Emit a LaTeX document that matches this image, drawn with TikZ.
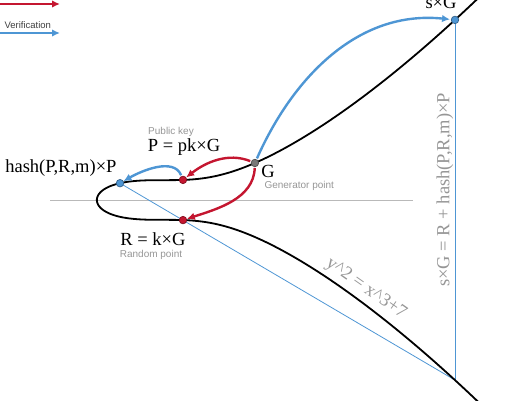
\documentclass[tikz,border=0pt]{standalone}
\usepackage{fontspec}
\setmainfont{Liberation Serif}
\newfontfamily\notefont{Liberation Sans}
\usetikzlibrary{arrows.meta}

\definecolor{signred}{RGB}{196,22,48}
\definecolor{checkblue}{RGB}{78,150,212}
\definecolor{notegray}{RGB}{150,150,150}
\definecolor{gengray}{RGB}{120,120,120}

\tikzset{
  curvept/.style={circle, inner sep=0pt, minimum size=7.5pt, line width=0.7pt, draw=#1!65!black, fill=#1},
  formula/.style={font=\fontsize{18.5}{21}\selectfont},
  note/.style={font=\notefont\fontsize{10}{12}\selectfont, text=notegray},
  signarrow/.style={signred, line width=2.4pt, -{Latex[length=8pt,width=7.5pt]}},
  checkarrow/.style={checkblue, line width=2.4pt, -{Latex[length=8pt,width=7.5pt]}},
}

\begin{document}
\begin{tikzpicture}[x=1pt,y=1pt]
  \useasboundingbox (0,0) rectangle (520,400);
  \clip (0,0) rectangle (520,400);

  % legend
  \coordinate (sigA) at (0,396);   \coordinate (sigB) at (60,396);
  \coordinate (verA) at (0,367);   \coordinate (verB) at (60,367);
  \node[note, text=black!75, anchor=base west] (sigtxt) at (1,401) {Signing};
  \node[note, text=black!75, anchor=west, font=\notefont\fontsize{9.5}{11}\selectfont] (vertxt) at (1,375) {Verification};
  \draw[signarrow, line width=1.8pt] (sigA) -- (sigB);
  \draw[checkarrow, line width=1.8pt] (verA) -- (verB);

  % axis
  \coordinate (axL) at (50,200); \coordinate (axR) at (413,200);
  \draw[gray!55, line width=0.6pt] (axL) -- (axR);

  % points on the curve
  \coordinate (Hc) at (120.0,216.8);
  \coordinate (Pc) at (183.0,220.1);
  \coordinate (Rc) at (183.0,179.9);
  \coordinate (Gc) at (254.9,237.0);
  \coordinate (Sc) at (455.0,380.1);
  \coordinate (Lc) at (455.0,19.9);

  % chords
  \draw[checkblue, line width=0.8pt] (Hc) -- (Lc);
  \draw[checkblue, line width=0.8pt] (Sc) -- (Lc);

  % y^2 = x^3 + 7
  \draw[line width=1.8pt] plot[domain=-3.4:3.4, samples=160, smooth, variable=\u]
    ({164+35.1*(-1.913+\u*\u)}, {200+7.5*\u*sqrt((-1.913+\u*\u)^2-1.913*(-1.913+\u*\u)+3.6596)});

  % arrows
  \draw[checkarrow, shorten <=5pt, shorten >=5pt] (Gc) to[out=66, in=174] (Sc);
  \draw[signarrow, shorten <=5pt, shorten >=4pt] (Gc) to[out=158, in=38] (Pc);
  \draw[signarrow, shorten <=5pt, shorten >=4pt] (Gc) to[out=-92, in=18] (Rc);
  \draw[checkarrow, shorten <=5pt, shorten >=4pt] (Pc) to[out=112, in=30] (Hc);

  \node[curvept=checkblue] (H) at (Hc) {};
  \node[curvept=signred] (P) at (Pc) {};
  \node[curvept=signred] (R) at (Rc) {};
  \node[curvept=gengray] (G) at (Gc) {};
  \node[curvept=checkblue] (S) at (Sc) {};

  % labels
  \node[formula, anchor=base] (Slbl) at (441,391) {s×G};
  \node[formula] (Plbl) at (184,253) {P = pk×G};
  \node[note] (Pnote) at (171,268) {Public key};
  \node[formula, anchor=east] (Hlbl) at (120,232) {hash(P,R,m)×P};
  \node[formula] (Glbl) at (268,229) {G};
  \node[note, anchor=west] (Gnote) at (261,214) {Generator point};
  \node[formula] (Rlbl) at (153,161) {R = k×G};
  \node[note] (Rnote) at (151,145) {Random point};
  \node[formula, text=notegray, rotate=-35] (Elbl) at (366,111) {y\textasciicircum 2 = x\textasciicircum 3+7};
  \node[formula, text=notegray, rotate=90] (Vlbl) at (445,210) {s×G = R + hash(P,R,m)×P};
\end{tikzpicture}
\end{document}
